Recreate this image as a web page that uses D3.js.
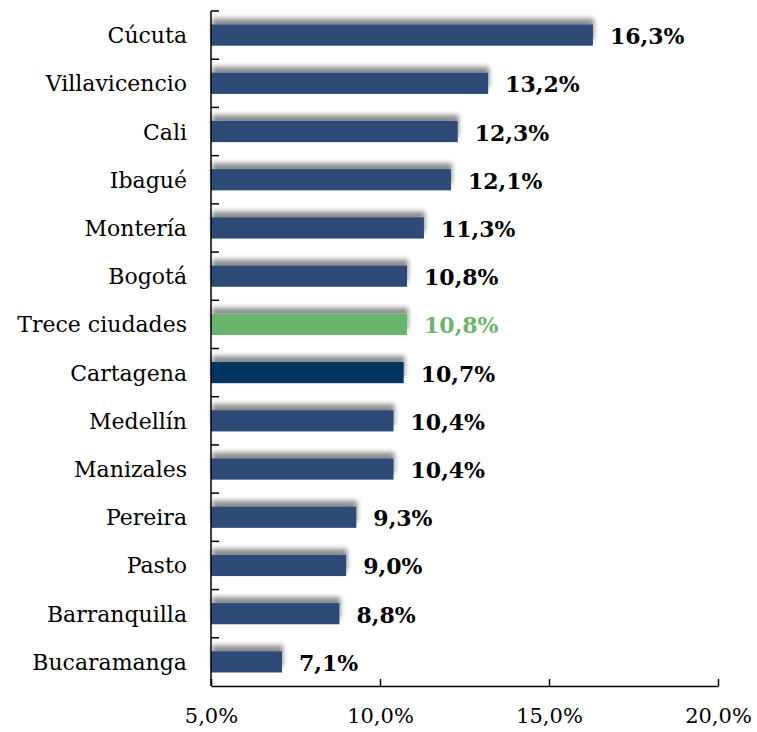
<!DOCTYPE html>
<html>
<head>
<meta charset="utf-8">
<script src="https://cdn.jsdelivr.net/npm/d3@7"></script>
<style>
body { margin: 0; background: #fff; }
</style>
</head>
<body>
<svg id="chart"></svg>
<script>
// data
var cities = ['Cúcuta', 'Villavicencio', 'Cali', 'Ibagué', 'Montería', 'Bogotá', 'Trece ciudades',
    'Cartagena', 'Medellín', 'Manizales', 'Pereira', 'Pasto', 'Barranquilla', 'Bucaramanga'];
var rates = [16.3, 13.2, 12.3, 12.1, 11.3, 10.8, 10.8, 10.7, 10.4, 10.4, 9.3, 9.0, 8.8, 7.1];
var xTicks = [5, 10, 15, 20];

var svgWidth = 757;
var svgHeight = 732;
var plotLeft = 211, plotRight = 718, plotTop = 11, plotBottom = 686;
var serif = 'DejaVu Serif, serif';

var svg = d3.select('#chart')
    .attr('width', svgWidth)
    .attr('height', svgHeight);

var fmt = function (d) { return d.toFixed(1).replace('.', ',') + '%'; };

var xScale = d3.scaleLinear()
    .domain([5, 20])
    .range([plotLeft, plotRight]);

var yScale = d3.scaleBand()
    .domain(cities)
    .range([plotTop, plotBottom])
    .paddingInner(0.56)
    .paddingOuter(0.28);

var defs = svg.append('defs');
var shadow = defs.append('filter').attr('id', 'shadow')
    .attr('x', '-10%').attr('y', '-80%').attr('width', '120%').attr('height', '260%');
shadow.append('feGaussianBlur').attr('in', 'SourceAlpha').attr('stdDeviation', 2.5);
shadow.append('feOffset').attr('dx', 1).attr('dy', -6).attr('result', 'off');
shadow.append('feComponentTransfer').attr('result', 'blur')
    .append('feFuncA').attr('type', 'linear').attr('slope', 0.45);
var merge = shadow.append('feMerge');
merge.append('feMergeNode').attr('in', 'blur');
merge.append('feMergeNode').attr('in', 'SourceGraphic');

function barColor(d) {
    if (d === 'Trece ciudades') return '#6bb56e';
    if (d === 'Cartagena') return '#023460';
    return '#2e4b77';
}

var data = cities.map(function (c, i) { return { city: c, value: rates[i] }; });

svg.selectAll('rect.bar')
    .data(data)
    .enter()
    .append('rect')
    .attr('class', 'bar')
    .attr('x', xScale(5))
    .attr('y', function (d) { return yScale(d.city); })
    .attr('width', function (d) { return xScale(d.value) - xScale(5); })
    .attr('height', yScale.bandwidth())
    .attr('fill', function (d) { return barColor(d.city); })
    .attr('filter', 'url(#shadow)');

svg.selectAll('text.value')
    .data(data)
    .enter()
    .append('text')
    .attr('class', 'value')
    .attr('x', function (d) { return xScale(d.value) + 17; })
    .attr('y', function (d) { return yScale(d.city) + yScale.bandwidth() / 2 + 9; })
    .attr('font-family', serif)
    .attr('font-weight', 'bold')
    .attr('font-size', 22)
    .attr('fill', function (d) { return d.city === 'Trece ciudades' ? '#6bb56e' : '#000'; })
    .text(function (d) { return fmt(d.value); });

svg.selectAll('text.city')
    .data(data)
    .enter()
    .append('text')
    .attr('class', 'city')
    .attr('x', 187)
    .attr('text-anchor', 'end')
    .attr('y', function (d) { return yScale(d.city) + yScale.bandwidth() / 2 + 8; })
    .attr('font-family', serif)
    .attr('font-size', 22)
    .attr('fill', '#000')
    .text(function (d) { return d.city; });

// y axis line with ticks between categories
var step = yScale.step();
var yLine = svg.append('g');
yLine.append('line')
    .attr('x1', plotLeft).attr('x2', plotLeft)
    .attr('y1', plotTop).attr('y2', plotBottom)
    .attr('stroke', '#000').attr('stroke-width', 1.5);
yLine.selectAll('line.tick')
    .data(d3.range(cities.length))
    .enter()
    .append('line')
    .attr('class', 'tick')
    .attr('x1', plotLeft).attr('x2', plotLeft + 8)
    .attr('y1', function (i) { return plotTop + i * step; })
    .attr('y2', function (i) { return plotTop + i * step; })
    .attr('stroke', '#000').attr('stroke-width', 1.5);

// x axis
var xAxis = d3.axisBottom(xScale)
    .tickValues(xTicks)
    .tickSizeInner(-7)
    .tickSizeOuter(0)
    .tickPadding(22)
    .tickFormat(fmt);

var gx = svg.append('g')
    .attr('transform', 'translate(0,' + plotBottom + ')')
    .call(xAxis);
gx.select('.domain').attr('stroke', '#000').attr('stroke-width', 1.5);
gx.selectAll('.tick line').attr('stroke', '#000').attr('stroke-width', 1.5);
gx.selectAll('.tick text')
    .attr('font-family', serif)
    .attr('font-size', 21)
    .attr('fill', '#000');
</script>
</body>
</html>
